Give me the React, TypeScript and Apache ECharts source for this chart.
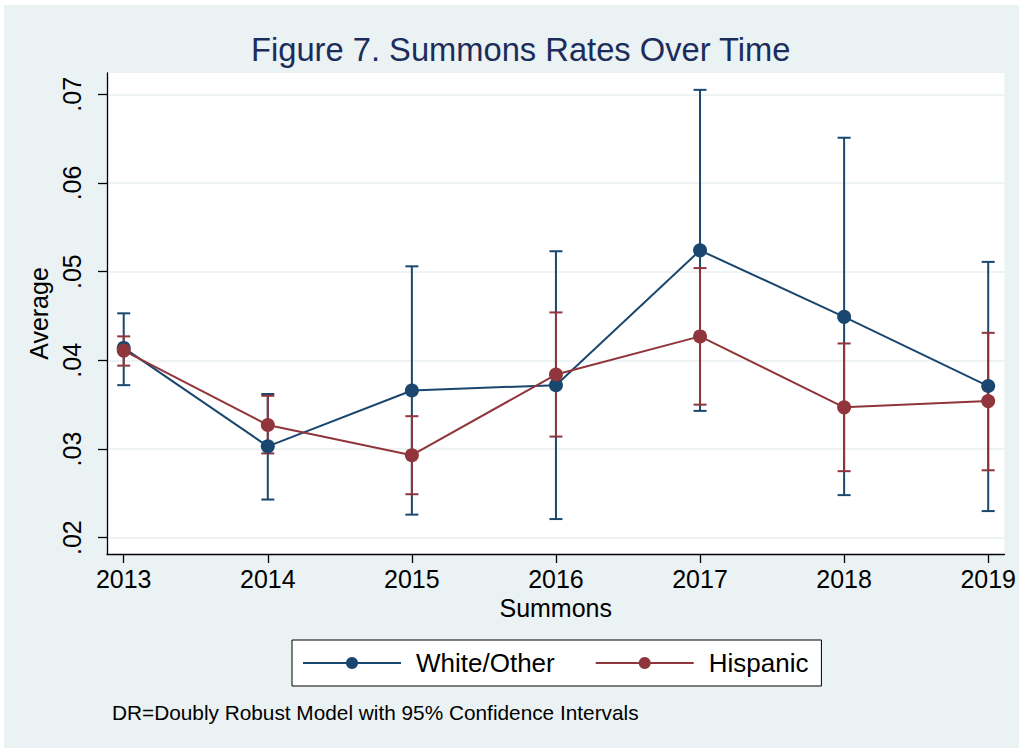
import React, { useEffect, useRef } from "react";
import * as echarts from "echarts";

const years = [2013, 2014, 2015, 2016, 2017, 2018, 2019];
const yTicks = [0.02, 0.03, 0.04, 0.05, 0.06, 0.07];

const whiteMean = [0.0414, 0.0303, 0.0366, 0.0372, 0.0524, 0.0449, 0.0371];
const whiteLo = [0.0372, 0.0243, 0.0226, 0.0221, 0.0343, 0.0248, 0.023];
const whiteHi = [0.0453, 0.0362, 0.0506, 0.0523, 0.0705, 0.0651, 0.0511];

const hispMean = [0.0411, 0.0327, 0.0293, 0.0384, 0.0427, 0.0347, 0.0354];
const hispLo = [0.0394, 0.0295, 0.0249, 0.0314, 0.035, 0.0275, 0.0276];
const hispHi = [0.0427, 0.036, 0.0337, 0.0454, 0.0504, 0.0419, 0.0431];

const BLUE = "#1a476f";
const RED = "#90353b";
const BG = "#eaf2f3";
const FONT = "'Liberation Sans', Arial, sans-serif";

function ciSeries(lo: number[], hi: number[], color: string) {
  return {
    type: "custom",
    silent: true,
    z: 2,
    encode: { x: 0, y: [1, 2] },
    data: years.map((y, i) => [y, lo[i], hi[i]]),
    renderItem: (params: any, api: any) => {
      const x = api.value(0);
      const pLo = api.coord([x, api.value(1)]);
      const pHi = api.coord([x, api.value(2)]);
      const hw = 6.5;
      const style = { stroke: color, lineWidth: 2 };
      return {
        type: "group",
        children: [
          { type: "line", shape: { x1: pLo[0], y1: pLo[1], x2: pHi[0], y2: pHi[1] }, style },
          { type: "line", shape: { x1: pLo[0] - hw, y1: pLo[1], x2: pLo[0] + hw, y2: pLo[1] }, style },
          { type: "line", shape: { x1: pHi[0] - hw, y1: pHi[1], x2: pHi[0] + hw, y2: pHi[1] }, style },
        ],
      };
    },
  };
}

function lineSeries(name: string, vals: number[], color: string) {
  return {
    type: "line",
    name,
    z: 3,
    data: years.map((y, i) => [y, vals[i]]),
    symbol: "circle",
    symbolSize: 14,
    lineStyle: { color, width: 2 },
    itemStyle: { color },
  };
}

export default function App() {
  const ref = useRef<HTMLDivElement>(null);
  useEffect(() => {
    if (!ref.current) return;
    const chart = echarts.init(ref.current, undefined, { renderer: "svg" });
    chart.setOption({
      animation: false,
      backgroundColor: "#ffffff",
      textStyle: { fontFamily: FONT },
      title: {
        text: "Figure 7. Summons Rates Over Time",
        left: 251,
        top: 33,
        padding: 0,
        textStyle: { fontSize: 32.7, fontWeight: "normal", color: "#1c2c5b", fontFamily: FONT },
      },
      graphic: [
        {
          type: "rect",
          z: -10,
          silent: true,
          shape: { x: 4, y: 5, width: 1015, height: 743 },
          style: { fill: BG },
        },
        {
          type: "text",
          x: 112,
          y: 712,
          style: {
            text: "DR=Doubly Robust Model with 95% Confidence Intervals",
            fontSize: 20.8,
            fontFamily: FONT,
            fill: "#000",
            verticalAlign: "middle",
          },
        },
      ],
      grid: {
        left: 107,
        top: 73,
        right: 13,
        bottom: 194,
        show: true,
        backgroundColor: "#ffffff",
        borderWidth: 0,
        containLabel: false,
      },
      legend: {
        data: ["White/Other", "Hispanic"],
        left: 292,
        top: 640,
        orient: "horizontal",
        padding: [10, 13, 10, 10],
        itemWidth: 98,
        itemHeight: 15,
        itemGap: 40,
        borderColor: "#000",
        borderWidth: 1,
        backgroundColor: "#ffffff",
        textStyle: { fontSize: 26, color: "#000", fontFamily: FONT, padding: [0, 0, 0, 10] },
      },
      xAxis: {
        type: "value",
        min: 2012.884,
        max: 2019.113,
        name: "Summons",
        nameLocation: "middle",
        nameGap: 37,
        nameTextStyle: { fontSize: 25, color: "#000", fontFamily: FONT },
        axisLine: { show: true, lineStyle: { color: "#000", width: 1.3 } },
        axisTick: { show: true, length: 9, lineStyle: { color: "#000", width: 1.3 }, customValues: years },
        axisLabel: {
          fontSize: 25,
          color: "#000",
          margin: 12,
          fontFamily: FONT,
          customValues: years,
          formatter: (v: number) => String(Math.round(v)),
        },
        splitLine: { show: false },
      },
      yAxis: {
        type: "value",
        min: 0.01816,
        max: 0.0724,
        name: "Average",
        nameLocation: "middle",
        nameRotate: 90,
        nameGap: 46,
        nameTextStyle: { fontSize: 25, color: "#000", fontFamily: FONT },
        axisLine: { show: true, lineStyle: { color: "#000", width: 1.3 } },
        axisTick: { show: true, length: 9, lineStyle: { color: "#000", width: 1.3 }, customValues: yTicks },
        axisLabel: {
          fontSize: 25,
          color: "#000",
          rotate: 90,
          margin: 23,
          fontFamily: FONT,
          customValues: yTicks,
          formatter: (v: number) => v.toFixed(2).replace(/^0/, ""),
        },
        splitLine: { show: true, lineStyle: { color: "#e8eff1", width: 1.5 } },
      },
      series: [
        ciSeries(whiteLo, whiteHi, BLUE),
        ciSeries(hispLo, hispHi, RED),
        lineSeries("White/Other", whiteMean, BLUE),
        lineSeries("Hispanic", hispMean, RED),
      ],
    });
    return () => chart.dispose();
  }, []);
  return (
    <div
      ref={ref}
      style={{ position: "fixed", left: 0, top: 0, width: 1019, height: 748 }}
    />
  );
}
